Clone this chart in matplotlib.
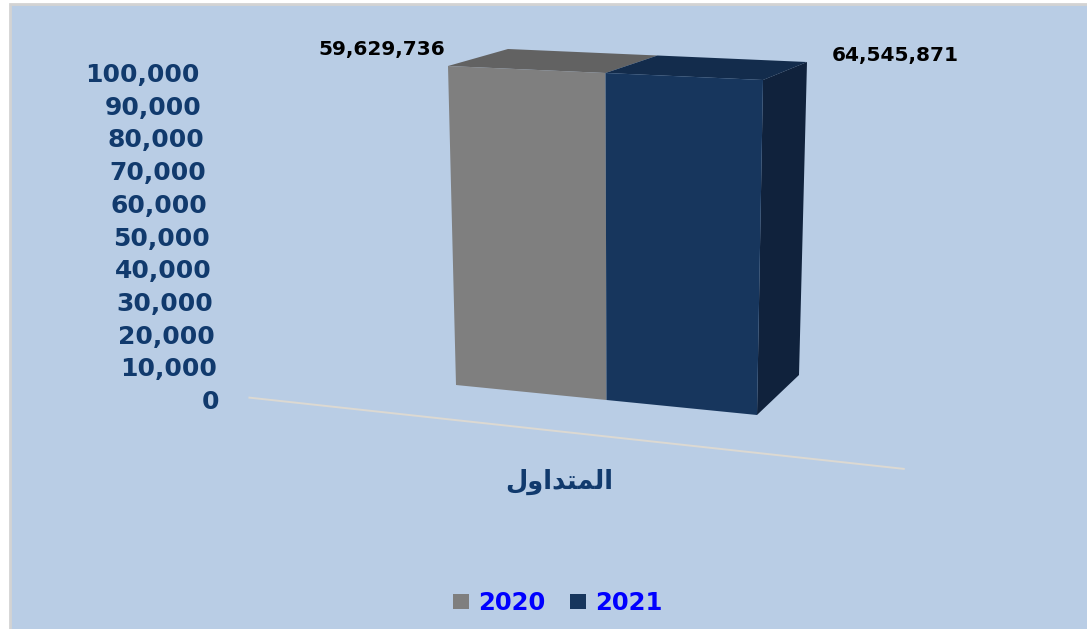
"""
Traded volume 2020 vs 2021 — pseudo-3D column chart (Excel style).
Writes out.png (1087x629).
"""

import matplotlib

matplotlib.use("Agg")

import matplotlib.pyplot as plt
import matplotlib.patches as mpatches
import matplotlib.transforms as mtransforms
import numpy as np


# ---- data -------------------------------------------------------------------
years = ["2020", "2021"]
values = [59629736, 64545871]
category = "المتداول"
y_ticks = [0, 10000, 20000, 30000, 40000, 50000, 60000, 70000, 80000, 90000, 100000]
y_max = 100000

front_colors = ["#7F7F7F", "#17365D"]
top_colors = ["#626262", "#132C4C"]
side_color = "#10223C"
bg_color = "#B9CDE5"
tick_color = "#113A6D"

W, H = 1087, 629

# pixel corners of the whole box (TL, TR, BR, BL) as measured on the reference
FRONT = np.array([[448, 66], [763, 80], [757, 415], [456, 385]], dtype=float)
BACK = np.array([[508, 49], [807, 62], [799, 375], [514, 350]], dtype=float)


def _bilinear(corners, u, v):
    tl, tr, br, bl = corners
    top = np.outer(1 - u, tl) + np.outer(u, tr)
    bottom = np.outer(1 - u, bl) + np.outer(u, br)
    return bottom * (1 - v)[:, None] + top * v[:, None]


def project(u, v, z):
    """(u across group, v value fraction, z depth) -> axes fraction."""
    f = _bilinear(FRONT, u, v)
    b = _bilinear(BACK, u, v)
    p = f * (1 - z)[:, None] + b * z[:, None]
    return np.column_stack([p[:, 0] / W, 1 - p[:, 1] / H])


class BoxTransform(mtransforms.Transform):
    """Map one face plane of the box into axes fraction coordinates."""

    input_dims = 2
    output_dims = 2

    def __init__(self, plane, level):
        super().__init__()
        self.plane = plane
        self.level = level

    def transform_non_affine(self, values):
        values = np.asarray(values, dtype=float)
        a, b = values[:, 0], values[:, 1]
        c = np.full_like(a, self.level)
        if self.plane == "front":
            x, v, z = a, b, c
        elif self.plane == "top":
            x, z, v = a, b, c
        else:  # side
            z, v, x = a, b, c
        return project(x + 0.5, np.minimum(v, y_max) / y_max, z)


def shape_arabic(text):
    # minimal contextual shaping for the letters used here, then visual order
    forms = {
        "ا": ("\uFE8D", "\uFE8E", None, None),
        "د": ("\uFEA9", "\uFEAA", None, None),
        "و": ("\uFEED", "\uFEEE", None, None),
        "ل": ("\uFEDD", "\uFEDE", "\uFEDF", "\uFEE0"),
        "م": ("\uFEE1", "\uFEE2", "\uFEE3", "\uFEE4"),
        "ت": ("\uFE95", "\uFE96", "\uFE97", "\uFE98"),
    }
    out = []
    for i, ch in enumerate(text):
        iso, fin, ini, med = forms[ch]
        prev_joins = i > 0 and forms[text[i - 1]][2] is not None
        next_joins = ini is not None and i + 1 < len(text)
        if prev_joins and next_joins:
            out.append(med)
        elif prev_joins:
            out.append(fin)
        elif next_joins:
            out.append(ini)
        else:
            out.append(iso)
    return "".join(reversed(out))


fig = plt.figure(figsize=(W / 100, H / 100), dpi=100, facecolor="white")
ax = fig.add_axes([0, 0, 1, 1])
ax.set_axis_off()
ax.set_xlim(0, 1)
ax.set_ylim(0, 1)

# chart area: grey edge only shows on the left and top
ax.add_patch(
    mpatches.Rectangle(
        (10 / W, -0.05), 1.1, 1 - 4 / H + 0.05,
        transform=ax.transAxes, facecolor=bg_color,
        edgecolor="#D3D3D3", linewidth=2, zorder=0, clip_on=False,
    )
)

# floor line of the category axis
floor_trf = BoxTransform("top", 0) + ax.transAxes
ax.plot([-1.0, 1.08], [-0.85, -0.85], color="#DCD9D2", linewidth=1.4,
        transform=floor_trf, clip_on=False, zorder=1)

width = 0.5
x_pos = np.array([-0.25, 0.25])
shown = np.minimum(values, y_max)

ax.bar(x_pos, shown, width=width, color=front_colors,
       transform=BoxTransform("front", 0) + ax.transAxes,
       clip_on=False, zorder=3, linewidth=0)

for xp, h, c in zip(x_pos, shown, top_colors):
    ax.add_patch(mpatches.Rectangle(
        (xp - width / 2, 0), width, 1,
        transform=BoxTransform("top", h) + ax.transAxes,
        facecolor=c, linewidth=0, clip_on=False, zorder=2))

ax.add_patch(mpatches.Rectangle(
    (0, 0), 1, shown[-1],
    transform=BoxTransform("side", x_pos[-1] + width / 2) + ax.transAxes,
    facecolor=side_color, linewidth=0, clip_on=False, zorder=2))

# value axis labels (drift slightly with the perspective)
for t in y_ticks:
    f = t / y_max
    xr = 219 - 19 * f
    yc = 402 - 327 * f
    ax.text(xr / W, 1 - yc / H, f"{t:,}", ha="right", va="center",
            fontsize=18, fontweight="bold", color=tick_color,
            transform=ax.transAxes)

# data labels
label_pos = [(382, 50), (895, 56)]
for (lx, ly), v in zip(label_pos, values):
    ax.text(lx / W, 1 - ly / H, f"{v:,}", ha="center", va="center",
            fontsize=14.5, fontweight="bold", color="black",
            transform=ax.transAxes)

ax.text(559 / W, 1 - 482 / H, shape_arabic(category), ha="center", va="center",
        fontsize=18.5, fontweight="bold", color=tick_color,
        family=["DejaVu Sans"], transform=ax.transAxes)

handles = [mpatches.Patch(facecolor=c, linewidth=0) for c in front_colors]
ax.legend(handles, years, loc="center", bbox_to_anchor=(558 / W, 1 - 603 / H),
          bbox_transform=ax.transAxes, ncol=2, frameon=False,
          prop={"weight": "bold", "size": 17.5}, labelcolor="#0000FF",
          handlelength=0.66, handleheight=0.55, handletextpad=0.38,
          columnspacing=1.0, borderpad=0)

fig.savefig("out.png", dpi=100)
plt.close(fig)
